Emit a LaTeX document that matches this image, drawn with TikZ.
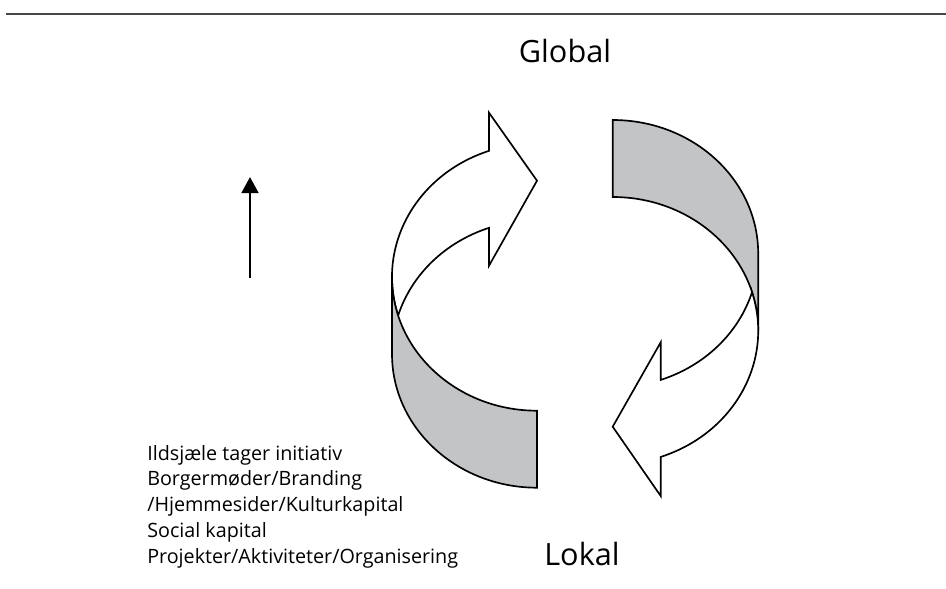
\documentclass[tikz,border=0pt]{standalone}
\usepackage{fontspec}
\setmainfont{Open Sans}
\usetikzlibrary{arrows.meta,calc}
\definecolor{bandgray}{RGB}{195,196,198}
\definecolor{rulegray}{RGB}{70,70,70}
\begin{document}
\begin{tikzpicture}[x=0.75pt,y=-0.75pt,
  ribbon/.style={draw=black,line width=1.25pt,line join=miter},
  whitepart/.style={ribbon,fill=white},
  graypart/.style={ribbon,fill=bandgray},
  biglabel/.style={inner sep=0pt,font=\fontsize{23}{27}\selectfont},
  listline/.style={inner sep=0pt,anchor=base west,font=\fontsize{14.8}{19}\selectfont}]
\useasboundingbox (0,0) rectangle (946,589);
% top rule
\coordinate (ruleL) at (6,14);
\coordinate (ruleR) at (946,14);
\draw[rulegray,line width=1.1pt] (ruleL) -- (ruleR);
% ellipse centres
\coordinate (cA) at (537,277);
\coordinate (cB) at (537,354);
\coordinate (cC) at (612.7,253.7);
\coordinate (cD) at (612.7,330.7);
% left ribbon: white arrow
\path[whitepart] ($(cA)+(163.26:145 and 133.7)$)
  arc[start angle=163.26,end angle=250.67,x radius=145,y radius=133.7]
  -- (489,112.7) -- (537,180.7) -- (489,265.7) -- ($(cB)+(250.67:145 and 133.7)$)
  arc[start angle=250.67,end angle=196.74,x radius=145,y radius=133.7] -- cycle;
% left ribbon: gray band
\path[graypart] ($(cA)+(180:145 and 133.7)$)
  arc[start angle=180,end angle=90,x radius=145,y radius=133.7]
  -- ($(cB)+(90:145 and 133.7)$)
  arc[start angle=90,end angle=180,x radius=145,y radius=133.7] -- cycle;
% right ribbon: gray band
\path[graypart] ($(cC)+(270:145.5 and 133.7)$)
  arc[start angle=270,end angle=360,x radius=145.5,y radius=133.7]
  -- ($(cD)+(0:145.5 and 133.7)$)
  arc[start angle=360,end angle=270,x radius=145.5,y radius=133.7] -- cycle;
% right ribbon: white arrow
\path[whitepart] ($(cD)+(-16.74:145.5 and 133.7)$)
  arc[start angle=-16.74,end angle=70.74,x radius=145.5,y radius=133.7]
  -- (660.7,496) -- (612.7,426.7) -- (660.7,342.3) -- ($(cC)+(70.74:145.5 and 133.7)$)
  arc[start angle=70.74,end angle=16.74,x radius=145.5,y radius=133.7] -- cycle;
% labels
\node[biglabel,anchor=base] (global) at (565,62) {Global};
\node[biglabel,anchor=base] (lokal) at (582,565) {Lokal};
% vertical arrow
\coordinate (vaBot) at (250,278);
\coordinate (vaTop) at (250,177);
\draw[line width=2pt,-{Triangle[width=12.5pt,length=12pt]}] (vaBot) -- (vaTop);
% list
\node[listline] (l1) at (147,460) {Ildsjæle tager initiativ};
\node[listline] (l2) at (147,485.8) {Borgermøder/Branding};
\node[listline] (l3) at (147,511.6) {/Hjemmesider/Kulturkapital};
\node[listline] (l4) at (147,537.4) {Social kapital};
\node[listline] (l5) at (147,563.2) {Projekter/Aktiviteter/Organisering};
\end{tikzpicture}
\end{document}
